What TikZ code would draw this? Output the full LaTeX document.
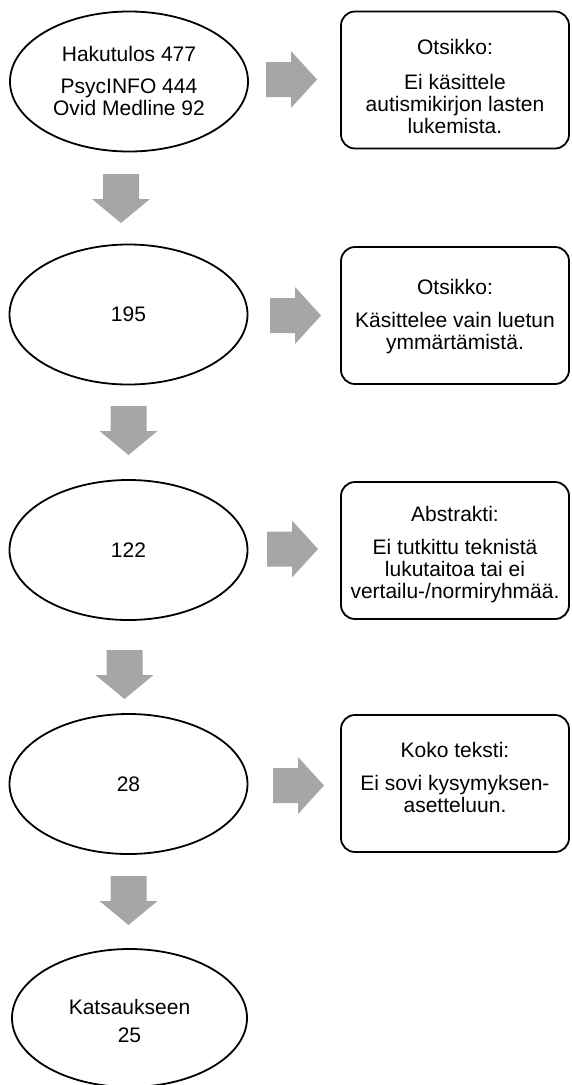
\documentclass[tikz,border=0pt]{standalone}
\usepackage{fontspec}
\setmainfont{Liberation Sans}
\usetikzlibrary{shapes.geometric}
\definecolor{arrowgray}{RGB}{166,166,166}
\tikzset{
  txt/.style={font=\fontsize{21}{22}\selectfont, align=center, inner sep=0pt},
  oval/.style={txt, draw=black, line width=1.8pt, ellipse,
    minimum width=238pt, minimum height=140pt},
  rbox/.style={draw=black, line width=1.8pt, rectangle, rounded corners=14pt,
    inner sep=0pt, minimum width=228pt, minimum height=137pt},
  downarr/.pic={\fill[arrowgray] (-18,0) -- (18,0) -- (18,25) -- (29,25) -- (0,49)
      -- (-29,25) -- (-18,25) -- cycle;},
  rightarr/.pic={\fill[arrowgray] (0,-17.5) -- (25,-17.5) -- (25,-28.5) -- (51,0)
      -- (25,28.5) -- (25,17.5) -- (0,17.5) -- cycle;},
}
\begin{document}
\begin{tikzpicture}[x=1pt,y=-1pt]
\useasboundingbox (0,0) rectangle (571,1085);
% ellipses
\node[oval] (e1) at (129,81.5) {};
\node[txt] (t1) at (129,81) {Hakutulos 477\\[10.5pt]PsycINFO 444\\Ovid Medline 92};
\node[oval] (e2) at (128.5,314.5) {195};
\node[oval] (e3) at (128.5,550) {122};
\node[oval] (e4) at (128.5,784) {28};
\node[oval, minimum width=235pt, minimum height=138pt] (e5) at (129.5,1018) {};
\node[txt] (t5) at (129.5,1021) {Katsaukseen\\[6pt]25};
% boxes
\node[rbox] (b1) at (455,80) {};
\node[txt] (tb1) at (455,86) {Otsikko:\\[13pt]Ei käsittele\\autismikirjon lasten\\lukemista.};
\node[rbox] (b2) at (455,315.5) {};
\node[txt] (tb2) at (455,316.5) {Otsikko:\\[11pt]Käsittelee vain luetun\\ymmärtämistä.};
\node[rbox] (b3) at (455,550.5) {};
\node[txt] (tb3) at (455,555) {Abstrakti:\\[11pt]Ei tutkittu teknistä\\lukutaitoa tai ei\\vertailu-/normiryhmää.};
\node[rbox] (b4) at (455,783.5) {};
\node[txt] (tb4) at (455,777) {Koko teksti:\\[11pt]Ei sovi kysymyksen-\\asetteluun.};
% right arrows (block arrows between ellipse and box)
\pic at (266,79.5) {rightarr};
\pic at (270,315.5) {rightarr};
\pic at (267,549) {rightarr};
\pic at (273,785.5) {rightarr};
% down arrows
\pic at (121,174) {downarr};
\pic at (128.5,406) {downarr};
\pic at (124.5,650) {downarr};
\pic at (128.5,876) {downarr};
\end{tikzpicture}
\end{document}
